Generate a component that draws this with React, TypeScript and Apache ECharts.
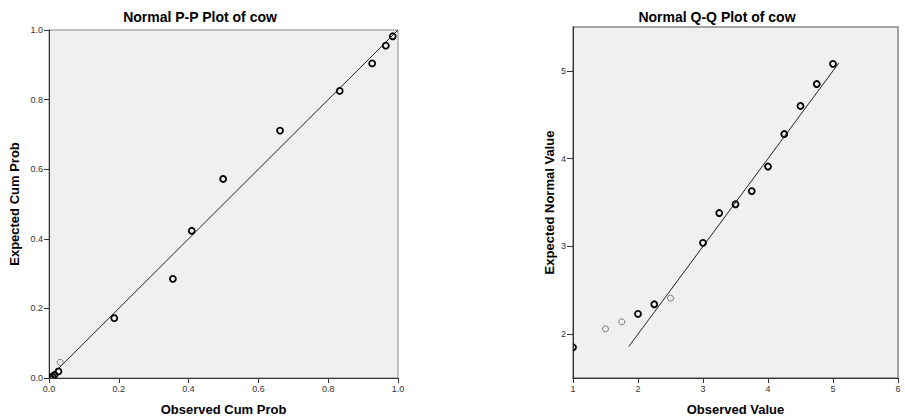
import React, { useEffect, useRef } from "react";
import * as echarts from "echarts";

// P-P plot data: [observed cum prob, expected cum prob]
const ppDark: number[][] = [
  [0.004, 0.001],
  [0.01, 0.004],
  [0.016, 0.009],
  [0.027, 0.019],
  [0.187, 0.172],
  [0.355, 0.285],
  [0.409, 0.423],
  [0.499, 0.572],
  [0.662, 0.711],
  [0.833, 0.825],
  [0.926, 0.904],
  [0.965, 0.955],
  [0.985, 0.982],
];
const ppGray: number[][] = [[0.032, 0.045]];
const ppLine: number[][] = [
  [0, 0],
  [1, 1],
];

// Q-Q plot data: [observed value, expected normal value]
const qqDark: number[][] = [
  [1.0, 1.85],
  [2.0, 2.23],
  [2.25, 2.34],
  [3.0, 3.04],
  [3.25, 3.38],
  [3.5, 3.48],
  [3.75, 3.63],
  [4.0, 3.91],
  [4.25, 4.28],
  [4.5, 4.6],
  [4.75, 4.85],
  [5.0, 5.08],
];
const qqGray: number[][] = [
  [1.5, 2.06],
  [1.75, 2.14],
  [2.5, 2.41],
];
const qqLine: number[][] = [
  [1.86, 1.86],
  [5.09, 5.09],
];
const qqYTicks: number[] = [2, 3, 4, 5];

const FONT = "'Liberation Sans', Arial, sans-serif";

function circleSeries(data: number[][], xi: number, stroke: string, lw: number) {
  return {
    type: "custom",
    xAxisIndex: xi,
    yAxisIndex: xi,
    clip: true,
    data,
    renderItem: (params: any, api: any) => {
      const p = api.coord([api.value(0), api.value(1)]);
      return {
        type: "circle",
        shape: { cx: p[0], cy: p[1], r: 3 },
        style: { fill: "none", stroke, lineWidth: lw },
      };
    },
    z: 5,
  };
}

export default function App() {
  const ref = useRef<HTMLDivElement>(null);
  useEffect(() => {
    if (!ref.current) return;
    const chart = echarts.init(ref.current, undefined, { renderer: "svg" });
    const axisLabel = { color: "#333", fontSize: 9, fontFamily: FONT };
    const nameStyle = { fontSize: 13, fontWeight: "bold" as const, fontFamily: FONT, color: "#000" };
    chart.setOption({
      animation: false,
      backgroundColor: "#fff",
      grid: [
        {
          left: 49,
          top: 30,
          width: 349,
          height: 348,
          outerBoundsMode: "none",
          containLabel: false,
          show: true,
          backgroundColor: "#f0f0f0",
          borderColor: "#888",
          borderWidth: 1,
        },
        {
          left: 573,
          top: 27,
          width: 325,
          height: 351,
          outerBoundsMode: "none",
          containLabel: false,
          show: true,
          backgroundColor: "#f0f0f0",
          borderColor: "#888",
          borderWidth: 1.5,
        },
      ],
      graphic: [
        {
          type: "text",
          x: 200,
          y: 17,
          style: {
            text: "Normal P-P Plot of cow",
            font: `bold 14px ${FONT}`,
            fill: "#000",
            textAlign: "center",
            textVerticalAlign: "middle",
          },
        },
        {
          type: "text",
          x: 717,
          y: 17,
          style: {
            text: "Normal Q-Q Plot of cow",
            font: `bold 14px ${FONT}`,
            fill: "#000",
            textAlign: "center",
            textVerticalAlign: "middle",
          },
        },
      ],
      xAxis: [
        {
          type: "value",
          gridIndex: 0,
          min: 0,
          max: 1,
          interval: 0.2,
          name: "Observed Cum Prob",
          nameLocation: "middle",
          nameGap: 25,
          nameTextStyle: nameStyle,
          axisLine: { show: true, onZero: false, lineStyle: { color: "#333", width: 1 } },
          axisTick: { show: true, length: 5, lineStyle: { color: "#333" } },
          axisLabel: { ...axisLabel, margin: 6, formatter: (v: number) => v.toFixed(1) },
          splitLine: { show: false },
        },
        {
          type: "value",
          gridIndex: 1,
          min: 1,
          max: 6,
          interval: 1,
          name: "Observed Value",
          nameLocation: "middle",
          nameGap: 25,
          nameTextStyle: nameStyle,
          axisLine: { show: true, onZero: false, lineStyle: { color: "#333", width: 1 } },
          axisTick: { show: true, length: 5, lineStyle: { color: "#333" } },
          axisLabel: { ...axisLabel, margin: 6 },
          splitLine: { show: false },
        },
      ],
      yAxis: [
        {
          type: "value",
          gridIndex: 0,
          min: 0,
          max: 1,
          interval: 0.2,
          name: "Expected Cum Prob",
          nameLocation: "middle",
          nameGap: 28,
          nameTextStyle: nameStyle,
          axisLine: { show: true, onZero: false, lineStyle: { color: "#333", width: 1 } },
          axisTick: { show: true, length: 5, lineStyle: { color: "#333" } },
          axisLabel: { ...axisLabel, margin: 6, formatter: (v: number) => v.toFixed(1) },
          splitLine: { show: false },
        },
        {
          type: "value",
          gridIndex: 1,
          min: 1.5,
          max: 5.5,
          name: "Expected Normal Value",
          nameLocation: "middle",
          nameGap: 17,
          nameTextStyle: nameStyle,
          axisLine: { show: true, onZero: false, lineStyle: { color: "#333", width: 1 } },
          axisTick: { show: true, length: 6, customValues: qqYTicks, lineStyle: { color: "#333" } },
          axisLabel: { ...axisLabel, margin: 7, customValues: qqYTicks },
          splitLine: { show: false },
        },
      ],
      series: [
        {
          type: "line",
          xAxisIndex: 0,
          yAxisIndex: 0,
          data: ppLine,
          symbol: "none",
          lineStyle: { color: "#222", width: 1 },
          z: 3,
        },
        circleSeries(ppDark, 0, "#000", 1.8),
        circleSeries(ppGray, 0, "#777", 1),
        {
          type: "line",
          xAxisIndex: 1,
          yAxisIndex: 1,
          data: qqLine,
          symbol: "none",
          lineStyle: { color: "#222", width: 1 },
          z: 3,
        },
        circleSeries(qqDark, 1, "#000", 1.8),
        circleSeries(qqGray, 1, "#777", 1),
      ],
    });
    return () => chart.dispose();
  }, []);
  return (
    <div
      ref={ref}
      style={{ position: "fixed", left: 0, top: 0, width: 905, height: 420 }}
    />
  );
}
